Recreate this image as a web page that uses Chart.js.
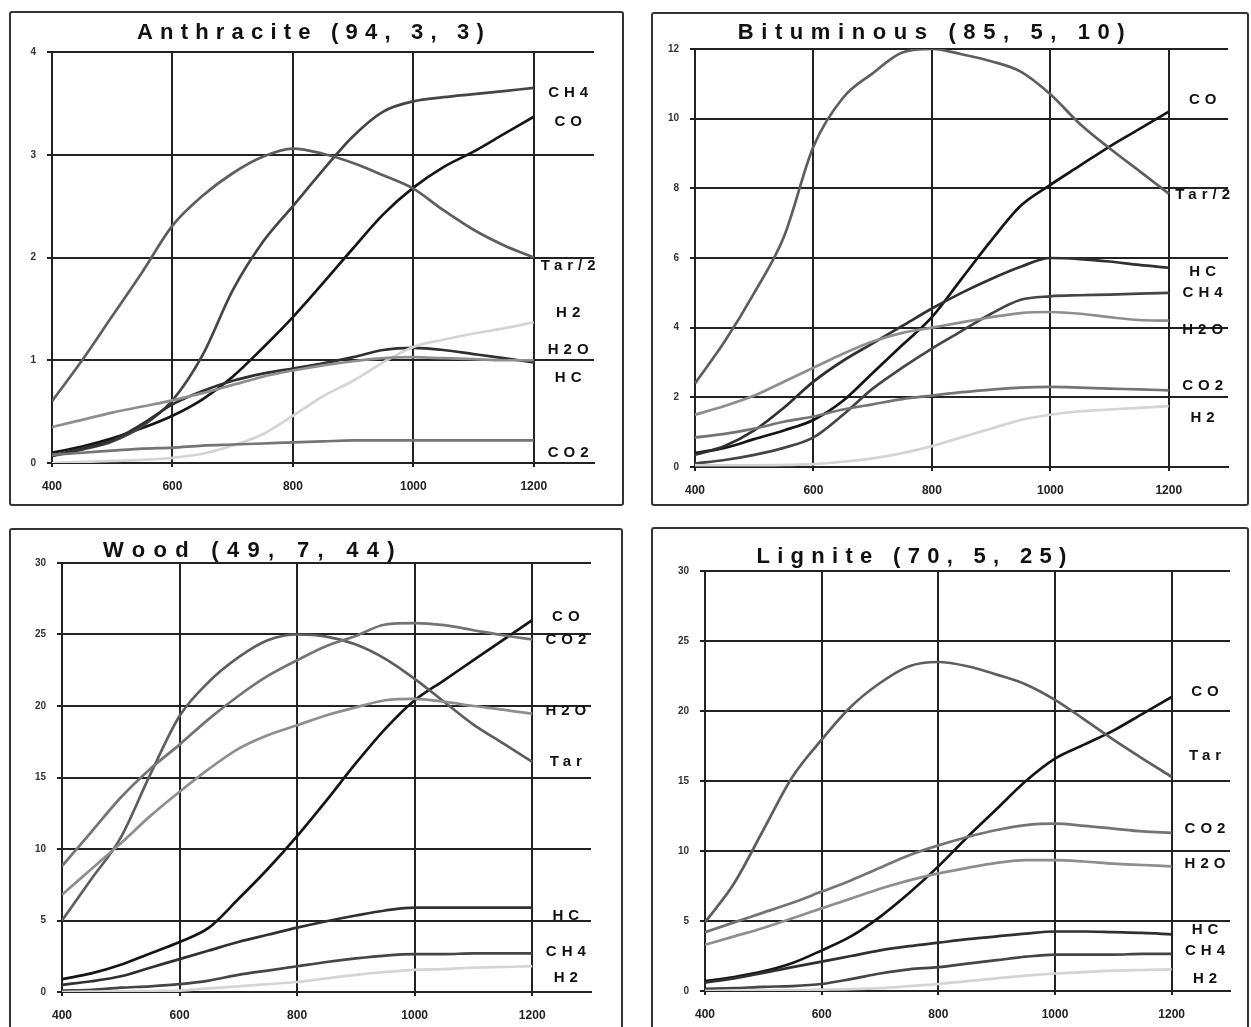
<!DOCTYPE html>
<html>
<head>
<meta charset="utf-8">
<script src="https://cdn.jsdelivr.net/npm/chart.js@4.4.1/dist/chart.umd.min.js"></script>
<style>
body { margin: 0; background: #fff; width: 1251px; height: 1027px; overflow: hidden; position: relative; }
.panel { position: absolute; border: 2px solid #333; border-radius: 3px; box-sizing: border-box; overflow: hidden; }
.panel canvas { position: absolute; left: 0; top: 0; }
</style>
</head>
<body>
<div class="panel" style="left:9px;top:11px;width:615px;height:495px"><canvas id="anth"></canvas></div>
<div class="panel" style="left:651px;top:12px;width:598px;height:494px"><canvas id="bit"></canvas></div>
<div class="panel" style="left:9px;top:528px;width:614px;height:510px"><canvas id="wood"></canvas></div>
<div class="panel" style="left:651px;top:527px;width:598px;height:511px"><canvas id="lig"></canvas></div>
<script>
// temperature points (same for all four panels)
const temps = [400, 450, 500, 550, 600, 650, 700, 750, 800, 850, 900, 950, 1000, 1050, 1100, 1150, 1200];
const xTicks = [400, 600, 800, 1000, 1200];

// Anthracite (94, 3, 3)
const anthCH4 = [0.07, 0.13, 0.21, 0.36, 0.61, 1.05, 1.68, 2.15, 2.5, 2.85, 3.18, 3.42, 3.52, 3.56, 3.59, 3.62, 3.65];
const anthCO  = [0.1, 0.16, 0.24, 0.34, 0.46, 0.62, 0.84, 1.12, 1.42, 1.75, 2.09, 2.42, 2.68, 2.88, 3.03, 3.2, 3.37];
const anthTar = [0.6, 1.0, 1.43, 1.86, 2.31, 2.6, 2.82, 2.98, 3.06, 3.01, 2.92, 2.8, 2.67, 2.46, 2.27, 2.12, 2.0];
const anthH2  = [0.0, 0.01, 0.02, 0.03, 0.05, 0.09, 0.17, 0.28, 0.46, 0.65, 0.8, 0.98, 1.13, 1.2, 1.26, 1.31, 1.37];
const anthH2O = [0.35, 0.42, 0.49, 0.55, 0.61, 0.68, 0.76, 0.84, 0.9, 0.95, 0.99, 1.02, 1.03, 1.02, 1.01, 1.0, 1.0];
const anthHC  = [0.07, 0.14, 0.22, 0.38, 0.57, 0.7, 0.8, 0.87, 0.92, 0.97, 1.03, 1.1, 1.12, 1.1, 1.06, 1.02, 0.98];
const anthCO2 = [0.08, 0.1, 0.12, 0.14, 0.15, 0.17, 0.18, 0.19, 0.2, 0.21, 0.22, 0.22, 0.22, 0.22, 0.22, 0.22, 0.22];

// Bituminous (85, 5, 10)
const bitTar = [2.4, 3.6, 5.0, 6.6, 9.2, 10.6, 11.3, 11.9, 12.0, 11.85, 11.65, 11.35, 10.7, 9.85, 9.15, 8.5, 7.85];
const bitCO  = [0.4, 0.55, 0.8, 1.05, 1.35, 1.9, 2.7, 3.5, 4.3, 5.4, 6.5, 7.5, 8.1, 8.65, 9.2, 9.7, 10.2];
const bitHC  = [0.35, 0.6, 1.05, 1.7, 2.45, 3.05, 3.55, 4.05, 4.55, 5.0, 5.4, 5.75, 6.0, 5.97, 5.9, 5.8, 5.72];
const bitCH4 = [0.1, 0.2, 0.35, 0.55, 0.85, 1.5, 2.25, 2.85, 3.4, 3.9, 4.4, 4.8, 4.9, 4.93, 4.95, 4.98, 5.0];
const bitH2O = [1.5, 1.75, 2.05, 2.45, 2.85, 3.25, 3.6, 3.85, 4.0, 4.15, 4.3, 4.42, 4.45, 4.4, 4.3, 4.22, 4.2];
const bitCO2 = [0.85, 0.95, 1.1, 1.3, 1.45, 1.65, 1.8, 1.95, 2.05, 2.15, 2.22, 2.28, 2.3, 2.28, 2.25, 2.23, 2.2];
const bitH2  = [0.05, 0.05, 0.05, 0.06, 0.08, 0.15, 0.25, 0.4, 0.6, 0.85, 1.1, 1.35, 1.5, 1.6, 1.65, 1.7, 1.75];

// Wood (49, 7, 44)
const woodTar = [5.0, 7.9, 10.8, 15.2, 19.3, 21.7, 23.4, 24.6, 25.0, 24.85, 24.3, 23.3, 21.9, 20.3, 18.7, 17.4, 16.1];
const woodCO2 = [8.8, 11.2, 13.6, 15.6, 17.3, 19.1, 20.7, 22.1, 23.2, 24.2, 24.9, 25.7, 25.8, 25.65, 25.3, 24.95, 24.65];
const woodH2O = [6.8, 8.6, 10.4, 12.3, 14.0, 15.6, 17.0, 17.95, 18.65, 19.35, 19.9, 20.4, 20.5, 20.3, 20.0, 19.75, 19.45];
const woodCO  = [0.9, 1.3, 1.9, 2.7, 3.5, 4.5, 6.5, 8.6, 10.9, 13.4, 16.0, 18.4, 20.4, 21.8, 23.2, 24.6, 26.0];
const woodHC  = [0.5, 0.75, 1.1, 1.7, 2.3, 2.9, 3.5, 4.0, 4.5, 4.95, 5.35, 5.7, 5.9, 5.9, 5.9, 5.9, 5.9];
const woodCH4 = [0.1, 0.15, 0.3, 0.4, 0.55, 0.8, 1.2, 1.5, 1.8, 2.1, 2.35, 2.55, 2.65, 2.65, 2.7, 2.7, 2.7];
const woodH2  = [0.0, 0.02, 0.05, 0.07, 0.1, 0.25, 0.4, 0.55, 0.7, 0.95, 1.2, 1.4, 1.55, 1.6, 1.7, 1.75, 1.8];

// Lignite (70, 5, 25)
const ligTar = [4.9, 7.7, 11.5, 15.3, 17.95, 20.3, 22.0, 23.2, 23.5, 23.2, 22.6, 21.9, 20.8, 19.4, 17.95, 16.6, 15.3];
const ligCO  = [0.7, 1.0, 1.4, 2.0, 2.9, 3.9, 5.3, 7.0, 8.9, 11.0, 13.0, 15.0, 16.6, 17.6, 18.6, 19.8, 21.0];
const ligCO2 = [4.2, 4.9, 5.6, 6.3, 7.1, 7.9, 8.8, 9.7, 10.4, 11.0, 11.5, 11.85, 11.95, 11.8, 11.6, 11.4, 11.3];
const ligH2O = [3.3, 3.9, 4.5, 5.2, 5.9, 6.6, 7.3, 7.9, 8.4, 8.8, 9.15, 9.35, 9.35, 9.25, 9.1, 9.0, 8.9];
const ligHC  = [0.6, 0.9, 1.3, 1.7, 2.1, 2.5, 2.9, 3.2, 3.45, 3.7, 3.9, 4.1, 4.25, 4.25, 4.2, 4.15, 4.05];
const ligCH4 = [0.15, 0.2, 0.3, 0.35, 0.5, 0.85, 1.25, 1.55, 1.7, 1.95, 2.2, 2.45, 2.6, 2.6, 2.6, 2.65, 2.65];
const ligH2  = [0.0, 0.02, 0.05, 0.07, 0.1, 0.13, 0.2, 0.35, 0.5, 0.7, 0.9, 1.1, 1.25, 1.35, 1.45, 1.5, 1.55];

// right-hand curve names and the y value they sit at
const anthLabels = [['CH4', 3.6], ['CO', 3.32], ['Tar/2', 1.92], ['H2', 1.46], ['H2O', 1.1], ['HC', 0.83], ['CO2', 0.1]];
const bitLabels  = [['CO', 10.54], ['Tar/2', 7.81], ['HC', 5.6], ['CH4', 5.0], ['H2O', 3.93], ['CO2', 2.33], ['H2', 1.41]];
const woodLabels = [['CO', 26.2], ['CO2', 24.6], ['H2O', 19.65], ['Tar', 16.1], ['HC', 5.3], ['CH4', 2.8], ['H2', 0.98]];
const ligLabels  = [['CO', 21.4], ['Tar', 16.8], ['CO2', 11.6], ['H2O', 9.1], ['HC', 4.4], ['CH4', 2.85], ['H2', 0.86]];

const colors = { CO: '#151515', CH4: '#454545', HC: '#303030', Tar: '#5e5e5e', CO2: '#747474', H2O: '#8e8e8e', H2: '#d4d4d4' };
const fontFam = '"Liberation Sans", Arial, sans-serif';

function pts(vals) {
    return vals.map((v, i) => ({ x: temps[i], y: v }));
}

const panelText = {
    id: 'panelText',
    afterDatasetsDraw(chart, args, opts) {
        const ctx = chart.ctx;
        const xs = chart.scales.x, ys = chart.scales.y;
        ctx.save();
        ctx.fillStyle = '#111';
        ctx.textAlign = 'center';
        ctx.textBaseline = 'middle';
        ctx.font = 'bold 22px ' + fontFam;
        ctx.letterSpacing = opts.spacing + 'px';
        ctx.fillText(opts.title, opts.tx, opts.ty);
        ctx.font = 'bold 15px ' + fontFam;
        ctx.letterSpacing = '5px';
        opts.labels.forEach(l => {
            ctx.fillText(l[0], xs.getPixelForValue(1258) + 2, ys.getPixelForValue(l[1]));
        });
        ctx.restore();
    }
};

// box: page position of the canvas origin and its size, area: page position of the plot area
function makePanel(id, title, box, area, yMax, yStep, series, labels, tx, ty, spacing) {
    const cv = document.getElementById(id);
    cv.width = box.w;
    cv.height = box.h;
    const yw = area.l - box.x;
    const xh = box.y + box.h - area.b;
    const datasets = series.map(s => ({
        label: s[0],
        data: pts(s[1]),
        borderColor: colors[s[2]],
        borderWidth: 2.7,
        pointRadius: 0,
        cubicInterpolationMode: 'monotone',
        fill: false
    }));
    return new Chart(cv.getContext('2d'), {
        type: 'line',
        data: { datasets: datasets },
        plugins: [panelText],
        options: {
            responsive: false,
            animation: false,
            events: [],
            layout: { padding: { left: 0, bottom: 0, top: area.t - box.y, right: box.x + box.w - area.r } },
            plugins: {
                legend: { display: false },
                tooltip: { enabled: false },
                panelText: { title: title, labels: labels, tx: tx, ty: ty, spacing: spacing }
            },
            scales: {
                x: {
                    type: 'linear', min: 400, max: 1300,
                    afterBuildTicks: s => { s.ticks = xTicks.map(v => ({ value: v })); },
                    afterFit: s => { s.height = xh; },
                    ticks: { padding: 12, color: '#222', maxRotation: 0, font: { size: 12, weight: 'bold', family: fontFam }, callback: v => String(v) },
                    grid: { color: '#222', lineWidth: 2, tickLength: 4 },
                    border: { color: '#222', width: 2 }
                },
                y: {
                    min: 0, max: yMax,
                    afterFit: s => { s.width = yw; },
                    ticks: { stepSize: yStep, padding: 11, color: '#333', font: { size: 10, weight: 'bold', family: fontFam } },
                    grid: { color: '#222', lineWidth: 2, tickLength: 5 },
                    border: { color: '#222', width: 2 }
                }
            }
        }
    });
}

makePanel('anth', 'Anthracite (94, 3, 3)',
    { x: 11, y: 13, w: 611, h: 491 }, { l: 52, t: 52, r: 594, b: 463 }, 4, 1,
    [['CO2', anthCO2, 'CO2'], ['H2O', anthH2O, 'H2O'], ['H2', anthH2, 'H2'], ['HC', anthHC, 'HC'],
     ['Tar/2', anthTar, 'Tar'], ['CH4', anthCH4, 'CH4'], ['CO', anthCO, 'CO']],
    anthLabels, 303, 20, 7.2);

makePanel('bit', 'Bituminous (85, 5, 10)',
    { x: 653, y: 14, w: 594, h: 490 }, { l: 695, t: 49, r: 1228, b: 467 }, 12, 2,
    [['H2', bitH2, 'H2'], ['CO2', bitCO2, 'CO2'], ['H2O', bitH2O, 'H2O'], ['CH4', bitCH4, 'CH4'],
     ['HC', bitHC, 'HC'], ['Tar/2', bitTar, 'Tar'], ['CO', bitCO, 'CO']],
    bitLabels, 282, 19, 7.6);

makePanel('wood', 'Wood (49, 7, 44)',
    { x: 11, y: 530, w: 610, h: 506 }, { l: 62, t: 563, r: 591, b: 992 }, 30, 5,
    [['H2', woodH2, 'H2'], ['CH4', woodCH4, 'CH4'], ['HC', woodHC, 'HC'], ['H2O', woodH2O, 'H2O'],
     ['CO2', woodCO2, 'CO2'], ['Tar', woodTar, 'Tar'], ['CO', woodCO, 'CO']],
    woodLabels, 242, 21, 8.3);

makePanel('lig', 'Lignite (70, 5, 25)',
    { x: 653, y: 529, w: 594, h: 507 }, { l: 705, t: 571, r: 1230, b: 991 }, 30, 5,
    [['H2', ligH2, 'H2'], ['CH4', ligCH4, 'CH4'], ['HC', ligHC, 'HC'], ['H2O', ligH2O, 'H2O'],
     ['CO2', ligCO2, 'CO2'], ['Tar', ligTar, 'Tar'], ['CO', ligCO, 'CO']],
    ligLabels, 262, 28, 7.3);
</script>
</body>
</html>
